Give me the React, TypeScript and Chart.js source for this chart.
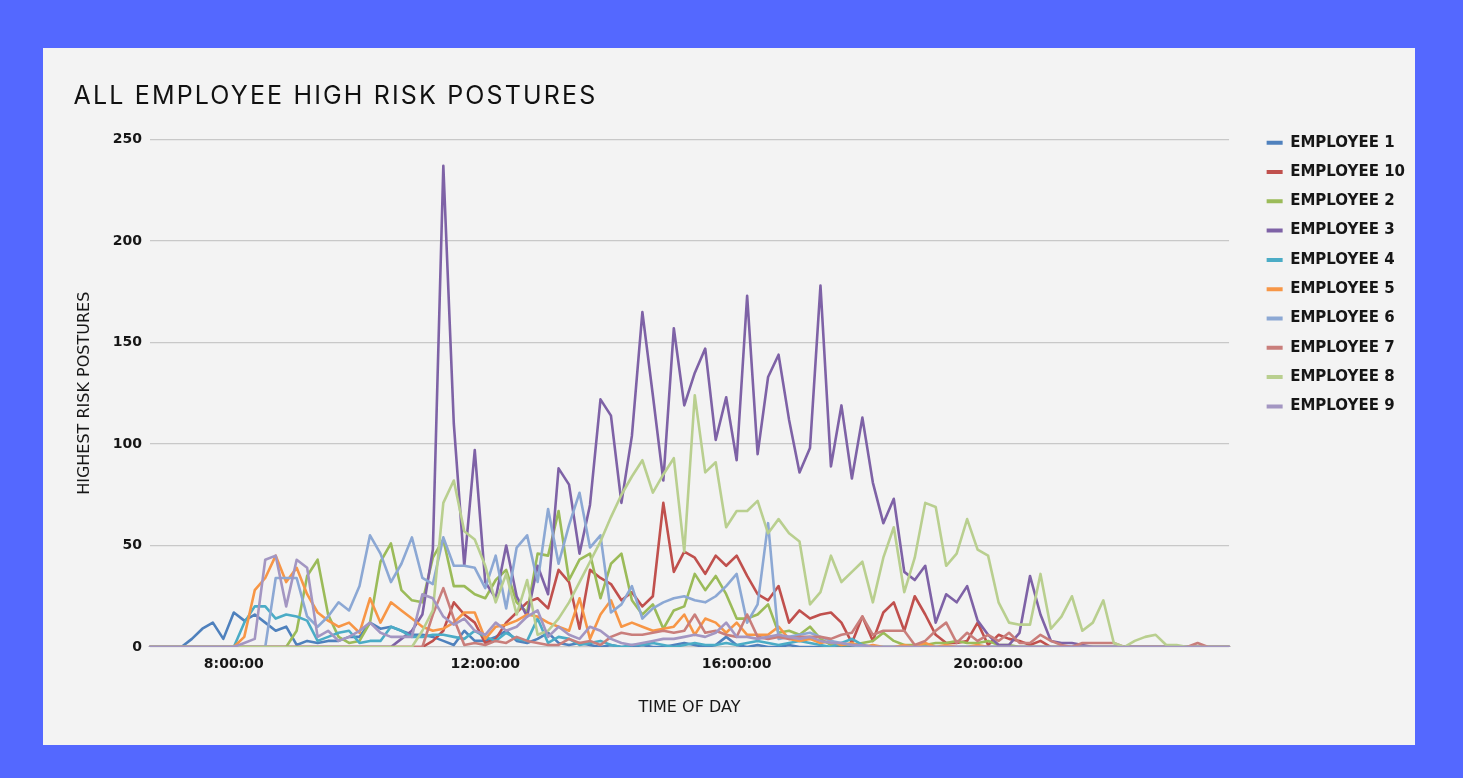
import React, { useEffect, useRef } from "react";
import { Chart, registerables } from "chart.js";

Chart.register(...registerables);

const timeLabels = [
  "6:40:00", "6:50:00", "7:00:00", "7:10:00", "7:20:00", "7:30:00", "7:40:00", "7:50:00",
  "8:00:00", "8:10:00", "8:20:00", "8:30:00", "8:40:00", "8:50:00",
  "9:00:00", "9:10:00", "9:20:00", "9:30:00", "9:40:00", "9:50:00",
  "10:00:00", "10:10:00", "10:20:00", "10:30:00", "10:40:00", "10:50:00",
  "11:00:00", "11:10:00", "11:20:00", "11:30:00", "11:40:00", "11:50:00",
  "12:00:00", "12:10:00", "12:20:00", "12:30:00", "12:40:00", "12:50:00",
  "13:00:00", "13:10:00", "13:20:00", "13:30:00", "13:40:00", "13:50:00",
  "14:00:00", "14:10:00", "14:20:00", "14:30:00", "14:40:00", "14:50:00",
  "15:00:00", "15:10:00", "15:20:00", "15:30:00", "15:40:00", "15:50:00",
  "16:00:00", "16:10:00", "16:20:00", "16:30:00", "16:40:00", "16:50:00",
  "17:00:00", "17:10:00", "17:20:00", "17:30:00", "17:40:00", "17:50:00",
  "18:00:00", "18:10:00", "18:20:00", "18:30:00", "18:40:00", "18:50:00",
  "19:00:00", "19:10:00", "19:20:00", "19:30:00", "19:40:00", "19:50:00",
  "20:00:00", "20:10:00", "20:20:00", "20:30:00", "20:40:00", "20:50:00",
  "21:00:00", "21:10:00", "21:20:00", "21:30:00", "21:40:00", "21:50:00",
  "22:00:00", "22:10:00", "22:20:00", "22:30:00", "22:40:00", "22:50:00",
  "23:00:00", "23:10:00", "23:20:00", "23:30:00", "23:40:00", "23:50:00",
];

const tickLabels = ["8:00:00", "12:00:00", "16:00:00", "20:00:00"];

const seriesNames = [
  "EMPLOYEE 1", "EMPLOYEE 10", "EMPLOYEE 2", "EMPLOYEE 3", "EMPLOYEE 4",
  "EMPLOYEE 5", "EMPLOYEE 6", "EMPLOYEE 7", "EMPLOYEE 8", "EMPLOYEE 9",
];

const seriesColors = [
  "#4F81BD", "#C0504D", "#9BBB59", "#7E62A6", "#4BACC6",
  "#F79646", "#8CA8D4", "#C97E7B", "#B9CF8F", "#A396C2",
];

const employee1 = [
  0, 0, 0, 0, 4, 9, 12, 4, 17, 13,
  16, 12, 8, 10, 1, 3, 2, 3, 3, 5,
  5, 12, 9, 10, 8, 6, 6, 5, 3, 1,
  8, 3, 3, 5, 8, 3, 2, 4, 7, 2,
  1, 2, 1, 0, 1, 0, 0, 1, 0, 0,
  1, 2, 1, 0, 1, 5, 1, 0, 1, 0,
  0, 1, 0, 0, 0, 0, 0, 0, 0, 0,
  0, 0, 0, 0, 0, 0, 0, 0, 0, 0,
  0, 0, 0, 0, 0, 0, 0, 0, 0, 0,
  0, 0, 0, 0, 0, 0, 0, 0, 0, 0,
  0, 0, 0, 0,
];

const employee10 = [
  0, 0, 0, 0, 0, 0, 0, 0, 0, 0,
  0, 0, 0, 0, 0, 0, 0, 0, 0, 0,
  0, 0, 0, 0, 0, 0, 0, 3, 8, 22,
  16, 12, 2, 4, 12, 17, 22, 24, 19, 38,
  32, 9, 38, 34, 31, 23, 27, 20, 25, 71,
  37, 47, 44, 36, 45, 40, 45, 35, 26, 23,
  30, 12, 18, 14, 16, 17, 12, 2, 15, 3,
  17, 22, 8, 25, 16, 6, 2, 2, 3, 12,
  1, 6, 4, 3, 1, 3, 0, 0, 0, 0,
  0, 0, 0, 0, 0, 0, 0, 0, 0, 0,
  0, 0, 0, 0,
];

const employee2 = [
  0, 0, 0, 0, 0, 0, 0, 0, 0, 0,
  0, 0, 0, 0, 8, 35, 43, 16, 5, 2,
  3, 12, 42, 51, 28, 23, 22, 44, 53, 30,
  30, 26, 24, 33, 38, 22, 17, 46, 45, 67,
  33, 43, 46, 24, 41, 46, 23, 16, 21, 9,
  18, 20, 36, 28, 35, 26, 14, 14, 16, 21,
  7, 8, 6, 10, 4, 1, 1, 1, 2, 3,
  7, 3, 1, 1, 1, 2, 2, 3, 2, 2,
  3, 1, 1, 0, 0, 0, 0, 0, 0, 0,
  0, 0, 0, 0, 0, 0, 0, 0, 0, 0,
  0, 0, 0, 0,
];

const employee3 = [
  0, 0, 0, 0, 0, 0, 0, 0, 0, 0,
  0, 0, 0, 0, 0, 0, 0, 0, 0, 0,
  0, 0, 0, 0, 4, 8, 16, 48, 237, 110,
  40, 97, 32, 24, 50, 25, 15, 40, 26, 88,
  80, 46, 70, 122, 114, 71, 104, 165, 124, 82,
  157, 119, 135, 147, 102, 123, 92, 173, 95, 133,
  144, 112, 86, 98, 178, 89, 119, 83, 113, 81,
  61, 73, 37, 33, 40, 12, 26, 22, 30, 13,
  6, 1, 1, 7, 35, 16, 3, 2, 2, 1,
  0, 0, 0, 0, 0, 0, 0, 0, 0, 0,
  0, 0, 0, 0,
];

const employee4 = [
  0, 0, 0, 0, 0, 0, 0, 0, 0, 12,
  20, 20, 14, 16, 15, 13, 3, 5, 7, 8,
  2, 3, 3, 10, 8, 5, 5, 6, 6, 5,
  4, 8, 5, 3, 7, 4, 3, 14, 2, 5,
  4, 1, 2, 3, 1, 0, 1, 1, 2, 1,
  0, 1, 2, 1, 1, 2, 1, 2, 3, 2,
  1, 2, 3, 2, 1, 0, 2, 4, 1, 0,
  0, 0, 0, 0, 0, 0, 0, 0, 0, 0,
  0, 0, 0, 0, 0, 0, 0, 0, 0, 0,
  0, 0, 0, 0, 0, 0, 0, 0, 0, 0,
  0, 0, 0, 0,
];

const employee5 = [
  0, 0, 0, 0, 0, 0, 0, 0, 0, 5,
  28, 34, 45, 32, 39, 26, 17, 13, 10, 12,
  7, 24, 12, 22, 18, 14, 10, 8, 9, 12,
  17, 17, 4, 10, 11, 13, 16, 15, 12, 10,
  8, 24, 4, 16, 23, 10, 12, 10, 8, 9,
  10, 16, 6, 14, 12, 7, 12, 6, 6, 6,
  10, 4, 3, 4, 2, 3, 1, 2, 0, 1,
  0, 0, 1, 0, 2, 0, 1, 0, 0, 1,
  0, 0, 0, 0, 0, 0, 0, 0, 0, 0,
  0, 0, 0, 0, 0, 0, 0, 0, 0, 0,
  0, 0, 0, 0,
];

const employee6 = [
  0, 0, 0, 0, 0, 0, 0, 0, 0, 0,
  0, 0, 34, 34, 34, 15, 10, 15, 22, 18,
  30, 55, 46, 32, 41, 54, 34, 31, 54, 40,
  40, 39, 29, 45, 19, 49, 55, 32, 68, 41,
  60, 76, 49, 55, 17, 21, 30, 14, 19, 22,
  24, 25, 23, 22, 25, 30, 36, 12, 21, 61,
  4, 5, 6, 7, 5, 3, 2, 1, 0, 0,
  0, 0, 0, 0, 0, 0, 0, 0, 0, 0,
  0, 0, 0, 0, 0, 0, 0, 0, 0, 0,
  0, 0, 0, 0, 0, 0, 0, 0, 0, 0,
  0, 0, 0, 0,
];

const employee7 = [
  0, 0, 0, 0, 0, 0, 0, 0, 0, 0,
  0, 0, 0, 0, 0, 0, 0, 0, 0, 0,
  0, 0, 0, 0, 0, 0, 0, 16, 29, 14,
  1, 2, 1, 3, 2, 5, 3, 2, 1, 1,
  4, 2, 3, 1, 5, 7, 6, 6, 7, 8,
  7, 8, 16, 7, 8, 6, 5, 16, 5, 4,
  5, 4, 5, 5, 5, 4, 6, 7, 15, 6,
  8, 8, 8, 1, 3, 8, 12, 2, 7, 3,
  6, 3, 7, 2, 2, 6, 3, 1, 0, 2,
  2, 2, 2, 0, 0, 0, 0, 0, 0, 0,
  2, 0, 0, 0,
];

const employee8 = [
  0, 0, 0, 0, 0, 0, 0, 0, 0, 0,
  0, 0, 0, 0, 0, 0, 0, 0, 0, 0,
  0, 0, 0, 0, 0, 0, 8, 18, 71, 82,
  57, 53, 40, 22, 36, 16, 33, 6, 8, 14,
  22, 32, 42, 52, 64, 75, 84, 92, 76, 85,
  93, 47, 124, 86, 91, 59, 67, 67, 72, 56,
  63, 56, 52, 21, 27, 45, 32, 37, 42, 22,
  44, 59, 27, 44, 71, 69, 40, 46, 63, 48,
  45, 22, 12, 11, 11, 36, 9, 15, 25, 8,
  12, 23, 2, 0, 3, 5, 6, 1, 1, 0,
  0, 0, 0, 0,
];

const employee9 = [
  0, 0, 0, 0, 0, 0, 0, 0, 0, 2,
  4, 43, 45, 20, 43, 39, 5, 8, 3, 5,
  8, 12, 7, 5, 5, 5, 26, 24, 15, 11,
  14, 8, 6, 12, 8, 10, 15, 18, 5, 10,
  6, 4, 10, 8, 4, 2, 1, 2, 3, 4,
  4, 5, 6, 5, 7, 12, 5, 5, 4, 5,
  6, 5, 4, 5, 3, 2, 2, 1, 1, 0,
  0, 0, 0, 0, 0, 0, 0, 0, 0, 0,
  0, 0, 0, 0, 0, 0, 0, 0, 0, 0,
  0, 0, 0, 0, 0, 0, 0, 0, 0, 0,
  0, 0, 0, 0,
];

const yTicks = { min: 0, max: 250, step: 50 };

export default function App() {
  const canvasRef = useRef<HTMLCanvasElement | null>(null);

  useEffect(() => {
    const canvas = canvasRef.current;
    if (!canvas) return;
    const seriesData = [
      employee1, employee10, employee2, employee3, employee4,
      employee5, employee6, employee7, employee8, employee9,
    ];
    const tickFont = { family: "'DejaVu Sans', sans-serif", weight: "bold" as const, size: 14 };
    const axisTitleFont = { family: "'DejaVu Sans', sans-serif", size: 16 };
    const textColor = "#161616";

    const chart = new Chart(canvas, {
      type: "line",
      data: {
        labels: timeLabels,
        datasets: seriesNames.map((name, i) => ({
          label: name,
          data: seriesData[i],
          borderColor: seriesColors[i],
          backgroundColor: seriesColors[i],
          borderWidth: 2.6,
          pointRadius: 0,
          pointHoverRadius: 0,
          tension: 0,
          borderJoinStyle: "round" as const,
          borderCapStyle: "round" as const,
          order: seriesNames.length - i,
          yAxisID: "y",
          xAxisID: "x",
        })),
      },
      options: {
        responsive: false,
        animation: false,
        events: [],
        layout: { padding: { left: 32, right: 0, top: 0, bottom: 0 } },
        plugins: {
          title: {
            display: true,
            text: " ",
            padding: { top: 0, bottom: 81.5 },
            font: { size: 10, lineHeight: 1 },
          },
          tooltip: { enabled: false },
          legend: {
            position: "right",
            align: "start",
            title: {
              display: true,
              text: " ",
              padding: { top: 62.9, bottom: 0 },
              font: { size: 10, lineHeight: 1 },
            },
            labels: {
              boxWidth: 16,
              boxHeight: 4,
              padding: 14.3,
              color: textColor,
              font: { family: "'DejaVu Sans', sans-serif", weight: "bold", size: 15 },
              sort: (a: any, b: any) => a.datasetIndex - b.datasetIndex,
              generateLabels: (c: any) =>
                (Chart.defaults.plugins.legend.labels.generateLabels as any)(c).map((l: any) => ({
                  ...l,
                  fillStyle: l.strokeStyle,
                  lineWidth: 0,
                })),
            },
          },
        },
        scales: {
          x: {
            type: "category",
            grid: { display: false, drawTicks: false },
            border: { display: false },
            ticks: {
              autoSkip: false,
              maxRotation: 0,
              minRotation: 0,
              padding: 9,
              color: textColor,
              font: tickFont,
              callback: (_value: any, index: number) => {
                const l = timeLabels[index];
                return tickLabels.includes(l) ? l : null;
              },
            },
            title: {
              display: true,
              text: "TIME OF DAY",
              color: textColor,
              font: axisTitleFont,
              padding: { top: 0, bottom: 27.4 },
            },
            afterFit: (s: any) => {
              s.height = 98;
            },
          },
          y: {
            type: "linear",
            position: "left",
            min: yTicks.min,
            max: yTicks.max,
            ticks: {
              stepSize: yTicks.step,
              padding: 8,
              color: textColor,
              font: tickFont,
            },
            grid: { color: "#C8C8C8", lineWidth: 1.2, drawTicks: false },
            border: { display: false },
            title: {
              display: true,
              text: "HIGHEST RISK POSTURES",
              color: textColor,
              font: axisTitleFont,
              padding: { top: 0, bottom: 0 },
            },
            afterFit: (s: any) => {
              s.width = 75;
            },
          },
          pad: {
            type: "linear",
            position: "right",
            display: true,
            grid: { display: false, drawTicks: false },
            border: { display: false },
            ticks: { display: false },
            afterFit: (s: any) => {
              s.width = 23.3;
            },
          },
        },
      } as any,
    });

    return () => {
      chart.destroy();
    };
  }, []);

  return (
    <div style={{ position: "fixed", inset: 0, background: "#5468FF", overflow: "hidden" }}>
      <div
        style={{
          position: "absolute",
          left: 43,
          top: 48,
          width: 1372,
          height: 697,
          background: "#F3F3F3",
        }}
      >
        <canvas
          ref={canvasRef}
          width={1372}
          height={697}
          style={{ position: "absolute", left: 0, top: 0, width: 1372, height: 697 }}
        />
        <div
          style={{
            position: "absolute",
            left: 30.6,
            top: 34.9,
            fontFamily: "Inter, sans-serif",
            fontWeight: 400,
            fontSize: 25,
            lineHeight: "25px",
            letterSpacing: "2.15px",
            color: "#111",
            whiteSpace: "nowrap",
          }}
        >
          ALL EMPLOYEE HIGH RISK POSTURES
        </div>
      </div>
    </div>
  );
}
